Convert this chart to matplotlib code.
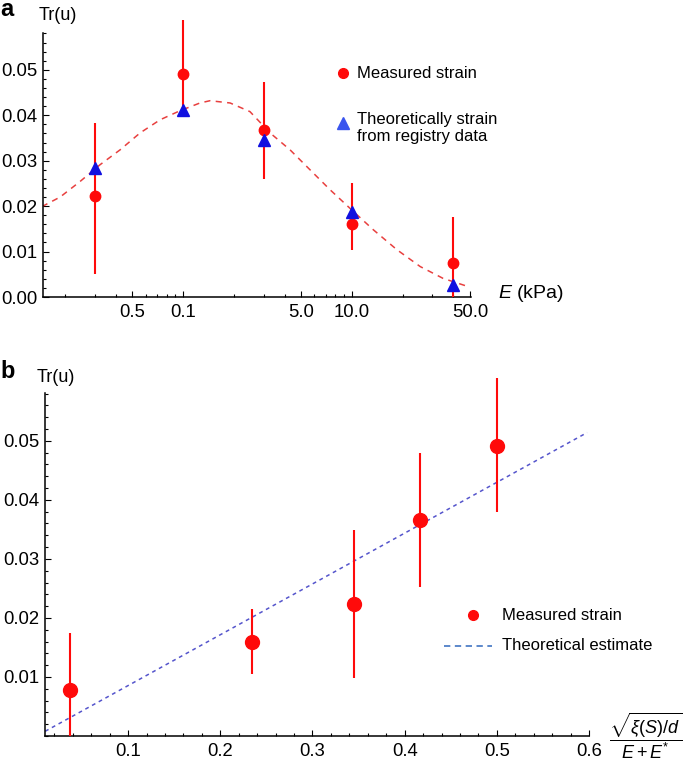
import numpy as np
import matplotlib
matplotlib.use("Agg")
import matplotlib.pyplot as plt
from matplotlib.lines import Line2D
from matplotlib.ticker import FormatStrFormatter, MultipleLocator, LogLocator, NullFormatter

plt.rcParams['font.family'] = ['Liberation Sans', 'DejaVu Sans']
plt.rcParams['mathtext.fontset'] = 'custom'
plt.rcParams['mathtext.rm'] = 'Liberation Sans'
plt.rcParams['mathtext.it'] = 'Liberation Sans:italic'

# ---- panel a data ----
E_kpa = [0.3, 1.0, 3.0, 10.0, 40.0]
meas_a = [0.0222, 0.0491, 0.0368, 0.0161, 0.0075]
meas_a_lo = [0.0051, 0.0399, 0.0260, 0.0104, 0.0]
meas_a_hi = [0.0383, 0.0610, 0.0474, 0.0251, 0.0176]
theo_a = [0.0284, 0.0412, 0.0346, 0.0187, 0.0026]

curve_x = [0.146, 0.187, 0.245, 0.322, 0.424, 0.556, 0.731, 0.96, 1.26, 1.445,
           1.90, 2.49, 3.28, 4.30, 5.65, 7.43, 9.76, 13.4, 18.5, 25.4, 34.7, 48.8]
curve_y = [0.0199, 0.0220, 0.0254, 0.0291, 0.0324, 0.0361, 0.0390, 0.0410, 0.0427, 0.0432,
           0.0427, 0.0408, 0.0361, 0.0324, 0.0280, 0.0236, 0.0195, 0.0148, 0.0104, 0.0067,
           0.0041, 0.0023]

xtick_vals_a = [0.5, 1, 5, 10, 50]
xtick_labels_a = ['0.5', '0.1', '5.0', '10.0', '50.0']

# ---- panel b data ----
ratio = [0.037, 0.234, 0.345, 0.4165, 0.500]
meas_b = [0.0078, 0.0159, 0.0224, 0.0366, 0.0492]
meas_b_lo = [0.0, 0.0105, 0.0098, 0.0253, 0.0380]
meas_b_hi = [0.0175, 0.0215, 0.0349, 0.0480, 0.0607]
line_x = [0.01, 0.598]
line_y = [0.0008, 0.0514]

fig = plt.figure(figsize=(6.85, 7.62), dpi=100)
W, H = 685, 762

def fx(px):
    return px / W

def fy(py):
    return 1 - py / H

red = '#ff0a0a'
tick_fs = 13.3

def style(ax):
    for s in ['top', 'right']:
        ax.spines[s].set_visible(False)
    for s in ['left', 'bottom']:
        ax.spines[s].set_linewidth(1.1)
    ax.tick_params(which='both', direction='in', labelsize=tick_fs, width=0.8)
    ax.tick_params(which='major', length=4, pad=4)
    ax.tick_params(axis='x', which='major', pad=5)
    ax.tick_params(which='minor', length=2.3)
    ax.yaxis.set_major_formatter(FormatStrFormatter('%.2f'))
    ax.yaxis.set_major_locator(MultipleLocator(0.01))
    ax.yaxis.set_minor_locator(MultipleLocator(0.002))

def draw_errors(ax, x, y, lo, hi):
    err_lo = np.array(y) - np.array(lo)
    err_hi = np.array(hi) - np.array(y)
    eb = ax.errorbar(x, y, yerr=[err_lo, err_hi], fmt='none', ecolor=red,
                     elinewidth=1.5, capsize=0, zorder=3)
    for coll in eb[2]:
        coll.set_clip_on(False)

# ---------------- panel a ----------------
axa = fig.add_axes([fx(43), fy(297), fx(471 - 43), (297 - 33) / H])
axa.set_xscale('log')
axa.plot(curve_x, curve_y, color='#e8403f', lw=1.1, dashes=(4, 3.5))
draw_errors(axa, E_kpa, meas_a, meas_a_lo, meas_a_hi)
axa.plot(E_kpa, meas_a, 'o', color=red, ms=7.5, zorder=4, clip_on=False)
axa.plot(E_kpa, theo_a, '^', color='#1010e0', ms=9, zorder=5, clip_on=False)
axa.set_xlim(0.148, 50.8)
axa.set_ylim(0, 0.0581)
style(axa)
axa.set_xticks(xtick_vals_a)
axa.set_xticklabels(xtick_labels_a)
axa.xaxis.set_minor_locator(LogLocator(base=10, subs=np.arange(2, 10)))
axa.xaxis.set_minor_formatter(NullFormatter())

fig.text(fx(0), fy(10), 'a', fontsize=17, fontweight='bold', va='center', ha='left')
fig.text(fx(39), fy(16), 'Tr(u)', fontsize=13, va='center', ha='left')
fig.text(fx(498), fy(293), r'$E$ (kPa)', fontsize=14, va='center', ha='left')

# legend a
fig.text(fx(357), fy(73), 'Measured strain', fontsize=12, va='center', ha='left')
fig.text(fx(357), fy(128), 'Theoretically strain\nfrom registry data', fontsize=12,
         va='center', ha='left', linespacing=1.15)
fig.add_artist(Line2D([fx(343)], [fy(73)], marker='o', color=red, ms=7, transform=fig.transFigure))
fig.add_artist(Line2D([fx(343)], [fy(123)], marker='^', color='#3a55ee', ms=9, transform=fig.transFigure))

# ---------------- panel b ----------------
axb = fig.add_axes([fx(45), fy(736), fx(589 - 45), (736 - 393) / H])
axb.plot(line_x, line_y, color='#5555cc', lw=1.1, dashes=(2.5, 2.5))
draw_errors(axb, ratio, meas_b, meas_b_lo, meas_b_hi)
axb.plot(ratio, meas_b, 'o', color=red, ms=10, zorder=4, clip_on=False)
axb.set_xlim(0.0098, 0.6)
axb.set_ylim(0, 0.0581)
style(axb)
axb.yaxis.set_major_locator(plt.FixedLocator([0.01, 0.02, 0.03, 0.04, 0.05]))
axb.xaxis.set_major_locator(MultipleLocator(0.1))
axb.xaxis.set_minor_locator(MultipleLocator(0.02))
axb.xaxis.set_major_formatter(FormatStrFormatter('%.1f'))

fig.text(fx(0), fy(372), 'b', fontsize=17, fontweight='bold', va='center', ha='left')
fig.text(fx(37), fy(377), 'Tr(u)', fontsize=13, va='center', ha='left')
fig.text(fx(646), fy(736), r'$\dfrac{\sqrt{\xi(S)/d}}{E+E^{*}}$', fontsize=13, va='center', ha='center')

# legend b
fig.text(fx(502), fy(615), 'Measured strain', fontsize=12, va='center', ha='left')
fig.text(fx(502), fy(646), 'Theoretical estimate', fontsize=12, va='center', ha='left')
fig.add_artist(Line2D([fx(473)], [fy(615)], marker='o', color=red, ms=7, transform=fig.transFigure))
fig.add_artist(Line2D([fx(444), fx(492)], [fy(646), fy(646)], color='#4f7fc7', lw=1.3,
                      dashes=(3.5, 2.5), transform=fig.transFigure))

fig.savefig('out.png', dpi=100)
